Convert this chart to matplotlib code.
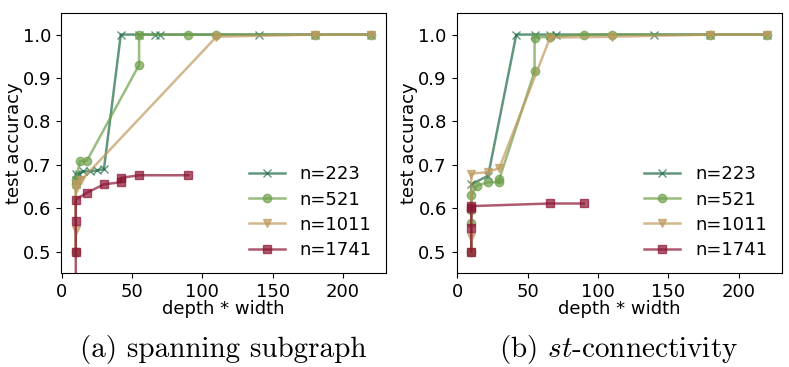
import matplotlib
matplotlib.use("Agg")
import matplotlib.pyplot as plt

plt.rcParams['mathtext.fontset'] = 'cm'
plt.rcParams['axes.unicode_minus'] = False

labels = ["n=223", "n=521", "n=1011", "n=1741"]
colors = ["#1f6b47", "#6fa04a", "#c09a60", "#8b1533"]
markers = ["x", "o", "v", "s"]

# (a) spanning subgraph
a223_x = [10, 10, 10, 12, 15, 20, 25, 30, 42, 55, 66, 70, 140, 180, 220]
a223_y = [0.655, 0.665, 0.68, 0.68, 0.685, 0.685, 0.687, 0.69, 1.0, 1.0, 1.0, 1.0, 1.0, 1.0, 1.0]
a521_x = [10, 10, 10, 13, 18, 55, 55, 90, 110, 180, 220]
a521_y = [0.50, 0.655, 0.665, 0.708, 0.71, 0.93, 1.0, 1.0, 1.0, 1.0, 1.0]
a1011_x = [10, 10, 10, 10, 14, 110, 180, 220]
a1011_y = [0.50, 0.55, 0.645, 0.655, 0.665, 0.995, 1.0, 1.0]
a1741_x = [10, 10, 10, 10, 18, 30, 42, 42, 55, 90]
a1741_y = [0.40, 0.50, 0.57, 0.62, 0.636, 0.655, 0.66, 0.67, 0.676, 0.676]

# (b) st-connectivity
b223_x = [10, 10, 22, 42, 55, 66, 70, 140, 180, 220]
b223_y = [0.50, 0.655, 0.675, 1.0, 1.0, 1.0, 1.0, 1.0, 1.0, 1.0]
b521_x = [10, 10, 10, 10, 14, 22, 30, 30, 55, 55, 66, 90, 110, 180, 220]
b521_y = [0.50, 0.565, 0.595, 0.63, 0.652, 0.66, 0.66, 0.668, 0.915, 0.993, 0.995, 1.0, 1.0, 1.0, 1.0]
b1011_x = [10, 10, 10, 22, 30, 66, 110, 180, 220]
b1011_y = [0.50, 0.535, 0.68, 0.683, 0.693, 0.993, 0.995, 1.0, 1.0]
b1741_x = [10, 10, 10, 10, 66, 90]
b1741_y = [0.50, 0.555, 0.60, 0.605, 0.611, 0.611]

panels = [
    ([(a223_x, a223_y), (a521_x, a521_y), (a1011_x, a1011_y), (a1741_x, a1741_y)],
     "(a) spanning subgraph"),
    ([(b223_x, b223_y), (b521_x, b521_y), (b1011_x, b1011_y), (b1741_x, b1741_y)],
     "(b) $st$-connectivity"),
]

fig = plt.figure(figsize=(7.89, 3.67), dpi=100)
lefts = [61 / 789, 456.5 / 789]
W = 325 / 789
for (series, caption), left in zip(panels, lefts):
    ax = fig.add_axes([left, 0.255, W, 0.71])
    for (xs, ys), lab, c, m in zip(series, labels, colors, markers):
        ax.plot(xs, ys, color=c, marker=m, label=lab, alpha=0.7,
                linewidth=1.8, markersize=6)
    ax.set_ylim(0.45, 1.05)
    ax.set_xticks([0, 50, 100, 150, 200])
    ax.set_yticks([0.5, 0.6, 0.7, 0.8, 0.9, 1.0])
    ax.tick_params(labelsize=13)
    ax.set_xlabel("depth * width", fontsize=13, labelpad=-1)
    ax.set_ylabel("test accuracy", fontsize=13)
    ax.yaxis.set_label_coords(-0.117, 0.5)
    ax.legend(loc="lower right", frameon=False, fontsize=13,
              handlelength=2.0, labelspacing=0.4, borderaxespad=0.4)
    cx = left + W / 2
    fig.text(cx, (367 - 350) / 367, caption, ha="center", va="center",
             fontsize=21, family="cmr10")

fig.savefig("out.png", dpi=100)
